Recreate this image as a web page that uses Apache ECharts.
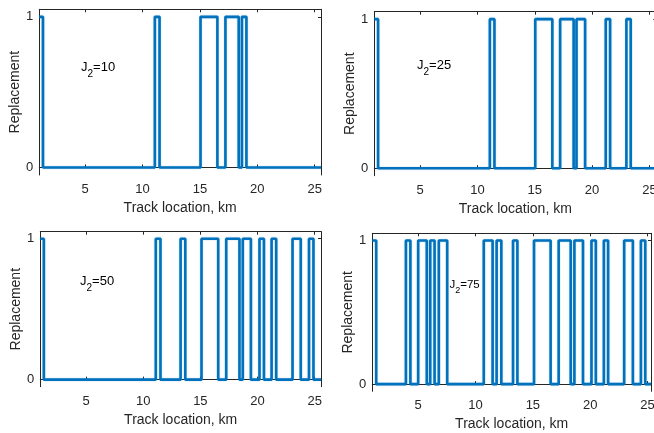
<!DOCTYPE html>
<html>
<head>
<meta charset="utf-8">
<script src="https://cdn.jsdelivr.net/npm/echarts@6/dist/echarts.min.js"></script>
<style>
html,body{margin:0;padding:0;background:#fff;}
#c{width:654px;height:433px;}
</style>
</head>
<body>
<div id="c"></div>
<script>
// Step data: replacement value holds from each x until the next x
const p1X = [1, 1.32, 11.07, 11.48, 15.05, 16.52, 17.22, 18.38, 18.66, 19.05, 25.55];
const p1Y = [1, 0, 1, 0, 1, 0, 1, 0, 1, 0, 0];
const p2X = [1, 1.33, 11.08, 11.48, 15.04, 16.53, 17.21, 18.39, 18.64, 19.39, 21.19, 21.57, 22.99, 23.37, 25.6];
const p2Y = [1, 0, 1, 0, 1, 0, 1, 0, 1, 0, 1, 0, 1, 0, 0];
const p3X = [1, 1.31, 11.1, 11.51, 13.27, 13.68, 15.1, 16.56, 17.26, 18.42, 18.71, 19.42, 20.17, 20.56, 21.23, 21.63, 23.06, 23.78, 24.5, 24.89, 25.55];
const p3Y = [1, 0, 1, 0, 1, 0, 1, 0, 1, 0, 1, 0, 1, 0, 1, 0, 1, 0, 1, 0, 0];
const p4X = [1, 1.34, 3.93, 4.32, 5.0, 5.75, 6.05, 6.43, 6.8, 7.53, 10.72, 11.49, 11.84, 12.25, 13.27, 13.65, 15.1, 16.55, 17.25, 18.3, 18.62, 19.37, 20.11, 20.49, 21.19, 21.56, 22.96, 23.72, 24.42, 24.8, 25.3];
const p4Y = [1, 0, 1, 0, 1, 0, 1, 0, 1, 0, 1, 0, 1, 0, 1, 0, 1, 0, 1, 0, 1, 0, 1, 0, 1, 0, 1, 0, 1, 0, 0];
const xTicks = [5, 10, 15, 20, 25];
const yTicks = [0, 1];
const labels = ['10', '25', '50', '75'];
const xMaxes = [25.55, 25.6, 25.55, 25.3];

const FONT = '"Liberation Sans", Arial, Helvetica, sans-serif';
const AX = '#262626';
const grids = [
  {left: 39.3, top: 9.3, width: 281.7, height: 165.7},
  {left: 374.3, top: 11.7, width: 282, height: 164},
  {left: 40.3, top: 231.7, width: 280.7, height: 155},
  {left: 372.3, top: 233.3, width: 278.7, height: 158}
];
const dataSets = [[p1X, p1Y], [p2X, p2Y], [p3X, p3Y], [p4X, p4Y]];

const xAxes = [], yAxes = [], series = [];
grids.forEach((g, i) => {
  xAxes.push({
    type: 'value', gridIndex: i, min: 1, max: xMaxes[i], position: 'bottom',
    name: 'Track location, km', nameLocation: 'middle', nameGap: 26,
    nameTextStyle: {fontFamily: FONT, fontSize: 14, color: AX},
    axisLine: {show: true, lineStyle: {color: AX, width: 1}},
    axisTick: {show: true, inside: true, length: 3, lineStyle: {color: AX}, customValues: xTicks},
    axisLabel: {show: true, margin: 8, fontFamily: FONT, fontSize: 13, color: AX, customValues: xTicks},
    splitLine: {show: false}
  });
  xAxes.push({
    type: 'value', gridIndex: i, min: 1, max: xMaxes[i], position: 'top',
    axisLine: {show: true, onZero: false, lineStyle: {color: AX, width: 1}},
    axisTick: {show: true, inside: true, length: 3, lineStyle: {color: AX}, customValues: xTicks},
    axisLabel: {show: false},
    splitLine: {show: false}
  });
  yAxes.push({
    type: 'value', gridIndex: i, min: -0.05, max: 1.05, position: 'left',
    name: 'Replacement', nameLocation: 'middle', nameGap: 16,
    nameTextStyle: {fontFamily: FONT, fontSize: 14, color: AX},
    axisLine: {show: true, onZero: false, lineStyle: {color: AX, width: 1}},
    axisTick: {show: true, inside: true, length: 3, lineStyle: {color: AX}, customValues: yTicks},
    axisLabel: {show: true, margin: 6, fontFamily: FONT, fontSize: 13, color: AX, customValues: yTicks},
    splitLine: {show: false}
  });
  yAxes.push({
    type: 'value', gridIndex: i, min: -0.05, max: 1.05, position: 'right',
    axisLine: {show: true, onZero: false, lineStyle: {color: AX, width: 1}},
    axisTick: {show: true, inside: true, length: 3, lineStyle: {color: AX}, customValues: yTicks},
    axisLabel: {show: false},
    splitLine: {show: false}
  });
  const [xs, ys] = dataSets[i];
  series.push({
    type: 'line', xAxisIndex: 2 * i, yAxisIndex: 2 * i, step: 'end',
    data: xs.map((x, k) => [x, ys[k]]),
    showSymbol: false, symbol: 'none', animation: false,
    lineStyle: {color: '#0072BD', width: 2.6, shadowColor: 'rgba(0,114,189,0.35)', shadowBlur: 1.5},
    clip: false, z: 1
  });
});

const annPos = [
  {x: 81, y: 61, size: 13},
  {x: 417, y: 59, size: 13},
  {x: 80, y: 275, size: 13},
  {x: 449.5, y: 278.5, size: 11.5}
];
const graphics = annPos.map((p, i) => ({
  type: 'text', left: p.x, top: p.y, z: 100,
  style: {
    text: '{a|J}{b|2}{a|=' + labels[i] + '}',
    rich: {
      a: {fontFamily: FONT, fontSize: p.size, fill: '#000', verticalAlign: 'top', lineHeight: p.size + 5},
      b: {fontFamily: FONT, fontSize: Math.round(p.size * 0.75), fill: '#000', verticalAlign: 'bottom', lineHeight: p.size + 5}
    }
  }
}));

const chart = echarts.init(document.getElementById('c'), null, {renderer: 'canvas'});
chart.setOption({
  animation: false,
  backgroundColor: '#fff',
  grid: grids.map(g => Object.assign({containLabel: false, outerBoundsMode: 'none', show: false}, g)),
  xAxis: xAxes,
  yAxis: yAxes,
  series: series,
  graphic: graphics
});
</script>
</body>
</html>
